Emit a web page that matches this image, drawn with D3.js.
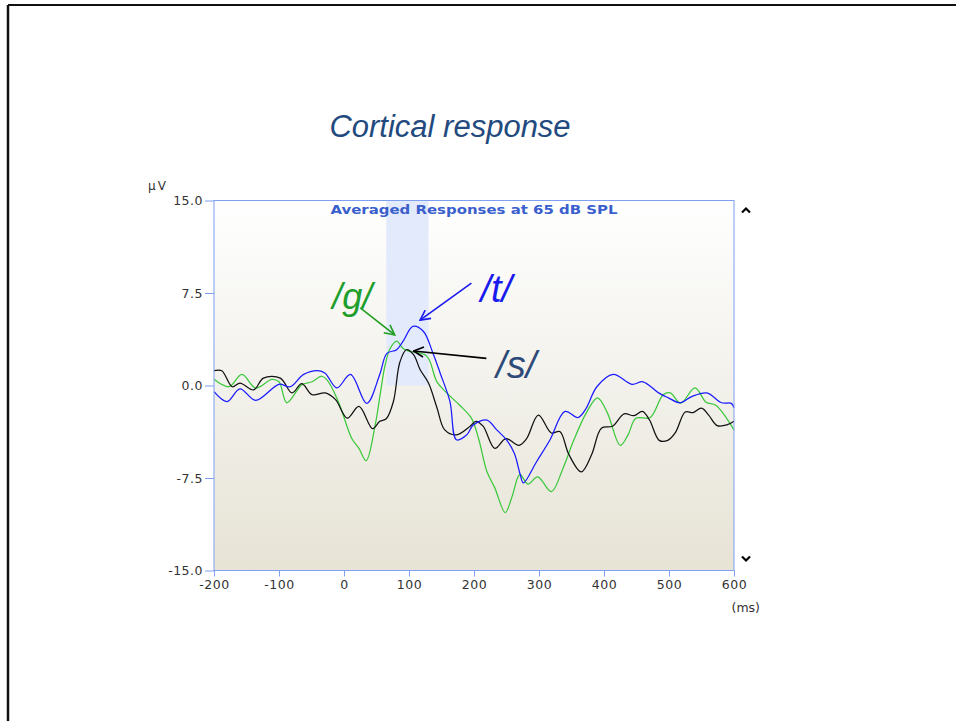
<!DOCTYPE html>
<html lang="en">
<head>
<meta charset="UTF-8">
<title>Cortical response</title>
<style>
  body { margin: 0; background: #fff; }
  svg { display: block; }
  .tick text { font-family: "DejaVu Sans", Verdana, sans-serif; font-size: 12.5px; fill: #333; letter-spacing: 0.5px; }
</style>
</head>
<body>
<svg id="chart" width="956" height="721"></svg>

<script src="https://d3js.org/d3.v7.min.js"></script>
<script>
// averaged cortical responses, [ms, uV]
var tWave = [[-200,-0.5],[-180,-1.3],[-160,-0.27],[-136,-1.2],[-100,0.1],[-83,-0.1],[-62,0.9],[-40,1.2],
  [-29,1.0],[-11,-0.2],[10,0.9],[35,-1.45],[55,0.9],[66,2.6],[81,2.9],[91,3.6],[106,4.8],[122,4.4],
  [137,2.6],[148,1.0],[163,-1.3],[173,-4.4],[189,-4.0],[199,-3.2],[220,-2.8],[235,-3.6],[250,-4.4],
  [262,-5.5],[271,-7.2],[276,-7.9],[296,-6.2],[317,-4.4],[340,-2.1],[360,-2.6],[372,-1.9],[389,-0.1],
  [414,0.9],[443,0.1],[460,0.3],[484,-0.6],[499,-1.0],[517,-1.4],[535,-0.9],[558,-0.6],[581,-1.4],
  [596,-1.45],[600,-1.8]];

var gWave = [[-200,0.5],[-177,-0.1],[-157,0.9],[-136,-0.2],[-111,0.5],[-100,0.3],[-88,-1.4],[-65,0.05],
  [-49,0.3],[-34,0.75],[-24,0.3],[-8,-1.4],[12,-4.3],[23,-5.1],[34,-6.1],[48,-3.2],[56,-0.6],[63,1.6],
  [71,3.0],[81,3.6],[91,3.0],[101,2.76],[127,2.4],[143,0.3],[158,-0.6],[178,-1.6],[196,-2.65],
  [207,-4.3],[220,-7.0],[232,-8.3],[248,-10.3],[258,-9.1],[267,-7.5],[271,-7.2],[283,-8.0],[298,-7.4],
  [319,-8.6],[337,-6.7],[353,-4.5],[373,-2.2],[390,-1.0],[405,-2.2],[425,-4.85],[437,-4.0],[449,-2.65],
  [471,-2.6],[491,-0.75],[502,-0.6],[518,-1.43],[540,-0.2],[557,-1.35],[572,-1.6],[600,-3.6]];

var sWave = [[-200,1.2],[-188,1.2],[-172,-0.1],[-160,0.2],[-139,-0.35],[-124,0.6],[-98,0.6],[-80,-0.6],
  [-65,0.15],[-49,-0.75],[-29,-0.6],[-13,-1.15],[5,-2.65],[23,-1.7],[44,-3.5],[55,-2.9],[65,-2.7],
  [76,-1.3],[86,1.9],[96,2.9],[107,2.5],[117,1.3],[130,0.2],[143,-1.8],[155,-3.6],[173,-4.0],
  [194,-3.3],[203,-2.9],[214,-3.3],[232,-5.1],[249,-4.3],[269,-4.85],[281,-4.3],[299,-2.4],
  [319,-3.85],[332,-3.73],[346,-5.6],[365,-7.0],[381,-5.6],[396,-3.46],[413,-3.3],[431,-2.3],
  [446,-2.45],[459,-2.1],[470,-2.8],[485,-4.45],[498,-4.45],[510,-3.8],[525,-2.15],[537,-2.2],
  [550,-1.84],[561,-2.4],[574,-3.25],[589,-3.2],[600,-2.9]];

var xTicks = [-200, -100, 0, 100, 200, 300, 400, 500, 600];
var yTicks = [-15, -7.5, 0, 7.5, 15];
var band = [65, 130];   // highlighted window, ms

// labels: text, text position [ms, uV], arrow from, arrow to
var labels = [
  {name: "/g/", at: [-18, 6.2], from: [25, 6.3], to: [78, 4.1], text: "#1f9e2c", arrow: "#1f9e1f", size: 36},
  {name: "/t/", at: [210, 6.8], from: [196, 8.3], to: [117, 5.3], text: "#1a1aee", arrow: "#1a1aee", size: 38},
  {name: "/s/", at: [234, 0.6], from: [219, 2.2], to: [107, 2.8], text: "#2d4a78", arrow: "#000000", size: 38}
];

var margin = {top: 200.5, left: 214},
    width = 520,
    height = 370;

var svg = d3.select("#chart");

// slide frame
svg.append("line").attr("x1", 8).attr("y1", 5).attr("x2", 956).attr("y2", 5)
   .attr("stroke", "#111").attr("stroke-width", 2);
svg.append("line").attr("x1", 8).attr("y1", 5).attr("x2", 8).attr("y2", 721)
   .attr("stroke", "#111").attr("stroke-width", 2.5);

svg.append("text")
   .attr("x", 450).attr("y", 137)
   .attr("text-anchor", "middle")
   .style("font-family", "'Liberation Sans', Arial, sans-serif")
   .style("font-style", "italic")
   .style("font-size", "31px")
   .style("fill", "#234a7e")
   .text("Cortical response");

var defs = svg.append("defs");
var grad = defs.append("linearGradient").attr("id", "bg")
   .attr("x1", 0).attr("y1", 0).attr("x2", 0).attr("y2", 1);
grad.append("stop").attr("offset", "0%").attr("stop-color", "#ffffff");
grad.append("stop").attr("offset", "50%").attr("stop-color", "#f2f1eb");
grad.append("stop").attr("offset", "100%").attr("stop-color", "#e7e3d5");

labels.forEach(function (d, i) {
  defs.append("marker")
     .attr("id", "head" + i)
     .attr("viewBox", "0 0 12 12")
     .attr("refX", 11).attr("refY", 6)
     .attr("markerWidth", 12).attr("markerHeight", 12)
     .attr("markerUnits", "userSpaceOnUse")
     .attr("orient", "auto")
     .append("path")
     .attr("d", "M1,1 L11,6 L1,11")
     .attr("fill", "none")
     .attr("stroke", d.arrow)
     .attr("stroke-width", 1.6);
});

var g = svg.append("g").attr("transform", "translate(" + margin.left + "," + margin.top + ")");

var x = d3.scaleLinear().domain([-200, 600]).range([0, width]);
var y = d3.scaleLinear().domain([-15, 15]).range([height, 0]);

g.append("rect").attr("width", width).attr("height", height).attr("fill", "url(#bg)");

g.append("rect")
   .attr("x", x(band[0])).attr("y", y(15))
   .attr("width", x(band[1]) - x(band[0]))
   .attr("height", y(0) - y(15))
   .attr("fill", "#e3eafb");

var line = d3.line()
   .x(function (d) { return x(d[0]); })
   .y(function (d) { return y(d[1]); })
   .curve(d3.curveCatmullRom);

var series = [
  {data: gWave, color: "#3cc83c"},
  {data: sWave, color: "#111111"},
  {data: tWave, color: "#1a1aff"}
];

g.selectAll(".wave")
   .data(series)
   .enter().append("path")
   .attr("class", "wave")
   .attr("d", function (d) { return line(d.data); })
   .attr("fill", "none")
   .attr("stroke", function (d) { return d.color; })
   .attr("stroke-width", 1.25);

g.append("text")
   .attr("x", width / 2).attr("y", 13)
   .attr("text-anchor", "middle")
   .style("font-family", "'DejaVu Sans', Verdana, sans-serif")
   .style("font-weight", "bold")
   .style("font-size", "12px")
   .style("fill", "#3a5fcd")
   .attr("textLength", 287)
   .attr("lengthAdjust", "spacingAndGlyphs")
   .text("Averaged Responses at 65 dB SPL");

// axes (plain hyphen for negatives, as in the original)
var fmtY = d3.format(".1f");
var xAxis = g.append("g")
   .attr("transform", "translate(0," + height + ")")
   .call(d3.axisBottom(x).tickValues(xTicks).tickFormat(function (d) { return String(d); })
     .tickSize(6).tickPadding(4).tickSizeOuter(0));
var yAxis = g.append("g")
   .call(d3.axisLeft(y).tickValues(yTicks).tickFormat(function (d) { return fmtY(d).replace("\u2212", "-"); })
     .tickSize(9).tickPadding(2).tickSizeOuter(0));
[xAxis, yAxis].forEach(function (a) {
  a.select(".domain").remove();
  a.selectAll(".tick line").attr("stroke", "#7f9ff0");
});

g.append("rect").attr("width", width).attr("height", height)
   .attr("fill", "none").attr("stroke", "#7f9ff0").attr("stroke-width", 1);

g.append("text").attr("x", -66).attr("y", -11)
   .style("font-family", "'DejaVu Sans', Verdana, sans-serif").style("font-size", "12px")
   .style("letter-spacing", "2px")
   .style("fill", "#333").text("µV");
g.append("text").attr("x", width + 26).attr("y", height + 41)
   .attr("text-anchor", "end")
   .style("font-family", "'DejaVu Sans', Verdana, sans-serif").style("font-size", "12.5px")
   .style("fill", "#333").text("(ms)");

// scroll chevrons
g.append("path")
   .attr("d", "M" + (width + 8) + ",12 l4,-4 l4,4")
   .attr("fill", "none").attr("stroke", "#000").attr("stroke-width", 2.2);
g.append("path")
   .attr("d", "M" + (width + 8) + "," + (height - 14) + " l4,4 l4,-4")
   .attr("fill", "none").attr("stroke", "#000").attr("stroke-width", 2.2);

// phoneme labels with arrows
g.selectAll(".arrow")
   .data(labels)
   .enter().append("line")
   .attr("class", "arrow")
   .attr("x1", function (d) { return x(d.from[0]); })
   .attr("y1", function (d) { return y(d.from[1]); })
   .attr("x2", function (d) { return x(d.to[0]); })
   .attr("y2", function (d) { return y(d.to[1]); })
   .attr("stroke", function (d) { return d.arrow; })
   .attr("stroke-width", 1.6)
   .attr("marker-end", function (d, i) { return "url(#head" + i + ")"; });

g.selectAll(".phon")
   .data(labels)
   .enter().append("text")
   .attr("class", "phon")
   .attr("x", function (d) { return x(d.at[0]); })
   .attr("y", function (d) { return y(d.at[1]); })
   .style("font-family", "'Liberation Sans', Arial, sans-serif")
   .style("font-style", "italic")
   .style("font-size", function (d) { return d.size + "px"; })
   .style("fill", function (d) { return d.text; })
   .text(function (d) { return d.name; });
</script>
</body>
</html>
